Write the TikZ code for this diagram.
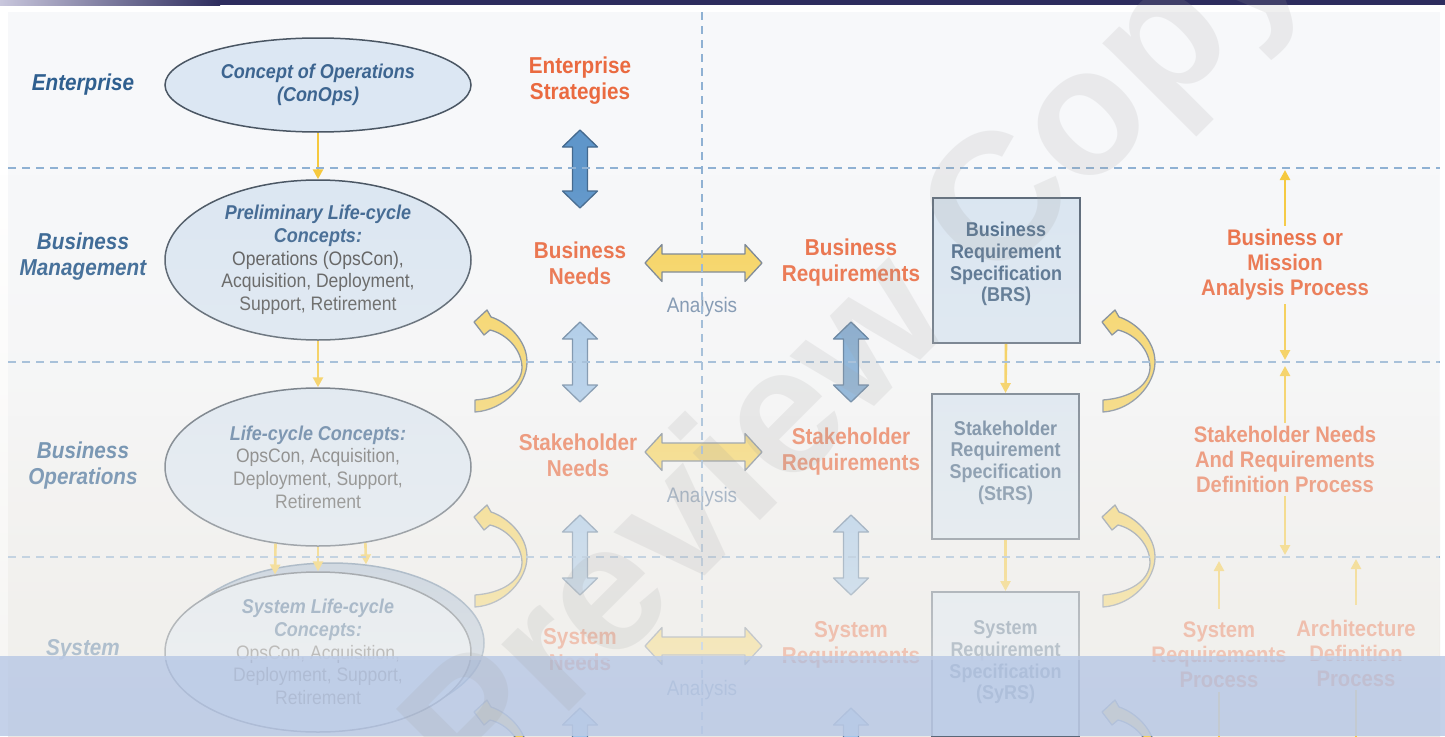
\documentclass[tikz,border=0pt]{standalone}
\usepackage{fontspec}
\setmainfont{Liberation Sans}[FakeStretch=0.9]
\newfontfamily\wmfont{Liberation Sans}
\usetikzlibrary{arrows.meta,fadings,shapes.geometric,calc}

\definecolor{lblue}{HTML}{2F5F8F}
\definecolor{orng}{HTML}{EA6A40}
\definecolor{ellfill}{HTML}{DCE7F3}
\definecolor{ellline}{HTML}{4A5663}
\definecolor{ttlblue}{HTML}{3D6590}
\definecolor{bodygray}{HTML}{555555}
\definecolor{boxtext}{HTML}{4B6988}
\definecolor{boxline}{HTML}{5A6878}
\definecolor{boxfill}{HTML}{DAE6F2}
\definecolor{yel}{HTML}{F6C93E}
\definecolor{fatyel}{HTML}{F7D35C}
\definecolor{fatline}{HTML}{707D8C}
\definecolor{blueD}{HTML}{5F96CA}
\definecolor{blueDl}{HTML}{44698E}
\definecolor{blueL}{HTML}{A3C6E8}
\definecolor{blueLl}{HTML}{5F7D9C}
\definecolor{dashc}{HTML}{8FB1D3}
\definecolor{anal}{HTML}{6F89A8}
\definecolor{bandc}{HTML}{BCCBE6}
\definecolor{panel}{HTML}{F7F8FA}
\definecolor{panelLow}{HTML}{ECE9E4}
\definecolor{fadec}{HTML}{F3F2EF}
\definecolor{topL}{HTML}{C9C7DD}
\definecolor{topD}{HTML}{2E2D5E}
\definecolor{ringc}{HTML}{A9BCD2}
\definecolor{wmgray}{HTML}{A0A0A0}

\tikzfading[name=fadedown, top color=transparent!100, bottom color=transparent!0]

\newcommand\elt[1]{{\fontsize{20}{22.7}\selectfont\bfseries\itshape\color{ttlblue}#1}}

\begin{document}
\begin{tikzpicture}[x=1pt,y=-1pt,
  lab/.style={font=\bfseries\itshape\fontsize{23}{26}\selectfont, text=lblue, align=center},
  org/.style={font=\bfseries\fontsize{23}{26}\selectfont, text=orng, align=center},
  orgr/.style={font=\bfseries\fontsize{22.5}{25}\selectfont, text=orng, align=center},
  ell/.style={ellipse, draw=ellline, line width=1.5pt, fill=ellfill, minimum width=306pt,
              minimum height=160pt, inner sep=0pt, align=center,
              font=\fontsize{19.5}{22.7}\selectfont, text=bodygray},
  boxn/.style={draw=boxline, line width=2pt, fill=boxfill, minimum width=147pt, minimum height=145pt},
  boxt/.style={font=\bfseries\fontsize{20}{21.7}\selectfont, text=boxtext, align=center},
  anl/.style={font=\fontsize{21}{24}\selectfont, text=anal},
  thinY/.style={draw=yel, line width=2.6pt, -{Triangle[length=10pt,width=10pt]}},
  dashl/.style={draw=dashc, line width=1.4pt, dash pattern=on 8pt off 6pt},
  pics/dblarrow/.style n args={4}{code={
    \path[#4, line join=round] (-#1,0) -- (-#1+17,-#2) -- (-#1+17,-#3) -- (#1-17,-#3) -- (#1-17,-#2)
      -- (#1,0) -- (#1-17,#2) -- (#1-17,#3) -- (-#1+17,#3) -- (-#1+17,#2) -- cycle;
  }},
  pics/curv/.style={code={
    \path[fill=fatyel, draw=fatline, line width=1.3pt, line join=round]
      (-36,-45) .. controls (-20,-40) and (0,-22) .. (0,0)
      .. controls (0,22) and (-22,48) .. (-52,50) -- (-52,38)
      .. controls (-25,36) and (-6,24) .. (-5,6)
      .. controls (-5,-12) and (-20,-28) .. (-37,-32)
      -- (-43,-27) -- (-53,-40) -- (-40,-52) -- cycle;
  }}
]
\useasboundingbox (0,0) rectangle (1445,736);
\clip (0,0) rectangle (1445,736);

% background
\fill[white] (0,0) rectangle (1445,736);
\shade[left color=topL, right color=topD] (0,0) rectangle (220,5);
\fill[topD] (220,0) rectangle (1445,5);
\fill[panel] (8,12) rectangle (1440,736);
\shade[top color=panel, bottom color=panelLow] (8,380) rectangle (1440,736);

% left labels
\node[lab] (ent) at (83,85) {Enterprise};
\node[lab] (bm) at (83,257) {Business\\Management};
\node[lab] (bo) at (83,466) {Business\\Operations};
\node[lab] (sysl) at (83,650) {System};

% ellipses
\node[ell, minimum height=94pt] (conops) at (318,85) {\elt{Concept of Operations}\\\elt{(ConOps)}};
\node[ell] (prelim) at (318,260) {\elt{Preliminary Life-cycle}\\\elt{Concepts:}\\Operations (OpsCon),\\Acquisition, Deployment,\\Support, Retirement};
\node[ell, minimum height=158pt] (lcc) at (318,467) {\elt{Life-cycle Concepts:}\\OpsCon, Acquisition,\\Deployment, Support,\\Retirement};
\node[ell, draw=blueLl, fill=ringc] (slcback) at (331,643) {};
\node[ell] (slc) at (318,652) {\elt{System Life-cycle}\\\elt{Concepts:}\\OpsCon, Acquisition,\\Deployment, Support,\\Retirement};

% middle texts
\node[org] (es) at (580,81) {Enterprise\\Strategies};
\node[org] (bn) at (580,263) {Business\\Needs};
\node[org] (sn) at (578,455) {Stakeholder\\Needs};
\node[org] (sysn) at (580,650) {System\\Needs};
\node[org] (br) at (851,263) {Business\\Requirements};
\node[org] (sr) at (851,452) {Stakeholder\\Requirements};
\node[org] (sysr) at (851,645) {System\\Requirements};

\node[anl] (an1) at (702,307) {Analysis};
\node[anl] (an2) at (702,497) {Analysis};
\node[anl] (an3) at (702,690) {Analysis};

% boxes
\node[boxn] (brs) at (1006,270.5) {};
\node[boxt] (brsT) at (1006,264) {Business\\Requirement\\Specification\\(BRS)};
\node[boxn] (strs) at (1005.5,466.5) {};
\node[boxt] (strsT) at (1005.5,462.5) {Stakeholder\\Requirement\\Specification\\(StRS)};
\node[boxn] (syrs) at (1005.5,664.5) {};
\node[boxt] (syrsT) at (1005.5,662.5) {System\\Requirement\\Specification\\(SyRS)};

% right column
\node[orgr] (bmap) at (1285,265) {Business or\\Mission\\Analysis Process};
\node[orgr] (snrd) at (1285,459) {Stakeholder Needs\\And Requirements\\Definition Process};
\node[orgr] (srp) at (1219,655) {System\\Requirements\\Process};
\node[orgr] (adp) at (1356,653) {Architecture\\Definition\\Process};

\coordinate (c1) at (1285,170);
\coordinate (c2) at (1285,360);
\coordinate (c3) at (1285,366);
\coordinate (c4) at (1285,555);
\coordinate (c5) at (1219,561);
\coordinate (c6) at (1356,559);
\coordinate (c7) at (1219,770);
\coordinate (c8) at (1356,770);

% thin yellow arrows
\draw[thinY] (conops.south) -- (prelim.north);
\draw[thinY] (prelim.south) -- (lcc.north);
\draw[thinY] (lcc.-119.6) -- (slc.119.25);
\draw[thinY] (lcc.south) -- (slc.north);
\draw[thinY] (lcc.-58) -- (slcback.66.4);
\draw[thinY] (brs.south) -- (strs.north);
\draw[thinY] (strs.south) -- (syrs.north);
\draw[thinY] (bmap.north) -- (c1);
\draw[thinY] (bmap.south) -- (c2);
\draw[thinY] ([yshift=-1pt]snrd.north) -- (c3);
\draw[thinY] (snrd.south) -- (c4);
\draw[thinY] ([yshift=10pt]srp.north) -- (c5);
\draw[thinY] ([yshift=11pt]adp.north) -- (c6);
\draw[thinY] (srp.south) -- (c7);
\draw[thinY] (adp.south) -- (c8);

% fat double arrows
\pic[rotate=90] at (580,169) {dblarrow={39}{17.5}{7.5}{fill=blueD,draw=blueDl,line width=1.3pt}};
\pic[rotate=90] at (580,362) {dblarrow={40}{17.5}{7.5}{fill=blueL,draw=blueLl,line width=1.3pt}};
\pic[rotate=90] at (580,555) {dblarrow={40}{17.5}{7.5}{fill=blueL,draw=blueLl,line width=1.3pt}};
\pic[rotate=90] at (580,748) {dblarrow={40}{17.5}{7.5}{fill=blueL,draw=blueLl,line width=1.3pt}};
\pic[rotate=90] at (851,362) {dblarrow={40}{17.5}{7.5}{fill=blueD!75!blueL,draw=blueDl,line width=1.3pt}};
\pic[rotate=90] at (851,555) {dblarrow={40}{17.5}{7.5}{fill=blueL,draw=blueLl,line width=1.3pt}};
\pic[rotate=90] at (851,748) {dblarrow={40}{17.5}{7.5}{fill=blueL,draw=blueLl,line width=1.3pt}};
\pic at (703.5,263) {dblarrow={58.5}{18.5}{9}{fill=fatyel,draw=fatline,line width=1.3pt}};
\pic at (703.5,452) {dblarrow={58.5}{18.5}{9}{fill=fatyel,draw=fatline,line width=1.3pt}};
\pic at (703.5,646) {dblarrow={58.5}{18.5}{9}{fill=fatyel,draw=fatline,line width=1.3pt}};

% curved arrows
\pic at (527,362) {curv};
\pic at (527,557) {curv};
\pic at (527,752) {curv};
\pic at (1155,362) {curv};
\pic at (1155,557) {curv};
\pic at (1155,752) {curv};

% dashed grid lines
\draw[dashl] (8,168) -- (1440,168);
\draw[dashl] (8,362) -- (1440,362);
\draw[dashl] (8,557) -- (1440,557);
\draw[dashl] (702,12) -- (702,736);

% fading of lower rows
\fill[fadec, fill opacity=0.68, path fading=fadedown] (0,175) rectangle (1445,660);

% bottom band
\fill[bandc, fill opacity=0.88] (0,656) rectangle (1445,736);

% watermark
\node[rotate=45, text=wmgray, opacity=0.16, font=\wmfont\bfseries\fontsize{180}{180}\selectfont] (wm) at (860,355) {Preview Copy};
\end{tikzpicture}
\end{document}
